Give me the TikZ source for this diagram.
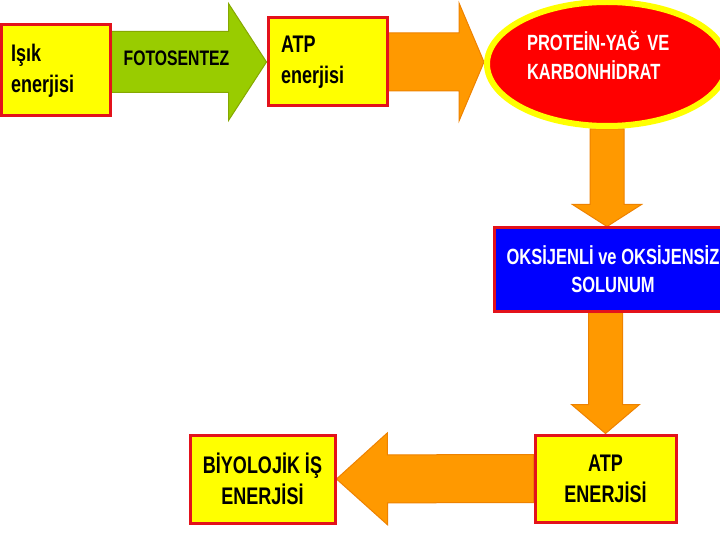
\documentclass[tikz,border=0pt]{standalone}
\usepackage{fontspec}
\setmainfont{Liberation Sans}
\newfontfamily\narrowfont{Liberation Sans}[FakeStretch=0.75]
\usetikzlibrary{calc, shapes.geometric, backgrounds}

\definecolor{boxyellow}{HTML}{FFFF00}
\definecolor{boxred}{HTML}{E3121B}
\definecolor{leafgreen}{HTML}{99CC00}
\definecolor{leafedge}{HTML}{86A800}
\definecolor{fatorange}{HTML}{FF9900}
\definecolor{orangeedge}{HTML}{EE8200}
\definecolor{deepblue}{HTML}{0000FF}

% fat block arrow: style, from, to, shaft half width, head half width, head length
\newcommand{\fatarrow}[6]{%
  \coordinate (fa-base) at ($(#3)!#6!(#2)$);
  \draw[#1] ($(#2)!#4!90:(#3)$) -- ($(fa-base)!#4!-90:(#2)$)
    -- ($(fa-base)!#5!-90:(#2)$) -- (#3)
    -- ($(fa-base)!#5!90:(#2)$) -- ($(fa-base)!#4!90:(#2)$)
    -- ($(#2)!#4!-90:(#3)$) -- cycle;
}

\begin{document}
\begin{tikzpicture}[
  x=1pt, y=-1pt,
  yellowbox/.style={rectangle, draw=boxred, line width=3pt, fill=boxyellow, font=\narrowfont\bfseries\fontsize{24}{31}\selectfont},
  leftbox/.style={yellowbox, align=left},
  centerbox/.style={yellowbox, align=center},
  greenarrow/.style={fill=leafgreen, draw=leafedge, line width=1pt, line join=miter},
  orangearrow/.style={fill=fatorange, draw=orangeedge, line width=1pt, line join=miter}
]
  \useasboundingbox (0,0) rectangle (720,540);
  % Top row
  \node[leftbox, inner xsep=10pt, text width=89pt, minimum height=91pt] (light) at (55.5,70.5) {Işık\\enerjisi};
  \node[leftbox, inner xsep=13pt, text width=93pt, minimum height=88pt] (atp1) at (327.5,62) {ATP\\enerjisi};
  \node[ellipse, fill=red, draw=boxyellow, line width=6pt, minimum width=240pt, minimum height=124pt,
        inner sep=0pt, text width=160pt, align=left, text=white,
        font=\narrowfont\bfseries\fontsize{22}{29}\selectfont] (carb) at (607,64) {PROTEİN-YAĞ VE\\KARBONHİDRAT\rule[-17pt]{0pt}{17pt}};
  % Respiration
  \node[rectangle, fill=deepblue, draw=boxred, line width=3pt, minimum width=238pt, minimum height=83pt,
        align=center, text=white, font=\narrowfont\bfseries\fontsize{22}{28}\selectfont] (resp) at (613,269.5) {OKSİJENLİ ve OKSİJENSİZ\\SOLUNUM};
  % Bottom row
  \node[centerbox, minimum width=141pt, minimum height=87pt] (atp2) at (605.5,478.5) {ATP\\ENERJİSİ};
  \node[centerbox, minimum width=145pt, minimum height=88pt] (work) at (262.5,479) {BİYOLOJİK İŞ\\ENERJİSİ};
  % Arrow end points
  \coordinate (g0) at (light.east |- atp1.west);
  \coordinate (o0) at (carb.west |- atp1.east);
  \coordinate (d0) at (carb.south |- resp.north);
  \coordinate (d1) at (resp.south -| atp2.north);
  % Arrows
  \begin{scope}[on background layer]
    \fill[white] (0,0) rectangle (720,540);
    \fatarrow{greenarrow}{g0}{atp1.west}{30.5pt}{58.5pt}{38pt}
    \fatarrow{orangearrow}{atp1.east}{o0}{29pt}{59pt}{25pt}
    \fatarrow{orangearrow}{carb.south}{d0}{17pt}{34.5pt}{22pt}
    \fatarrow{orangearrow}{d1}{atp2.north}{17pt}{34pt}{29pt}
    \fatarrow{orangearrow}{atp2.west}{work.east}{24pt}{46pt}{51pt}
  \end{scope}
  \node[anchor=west, inner sep=0pt, font=\narrowfont\bfseries\fontsize{21}{22}\selectfont] (photo) at ([xshift=12pt, yshift=4pt]g0) {FOTOSENTEZ};
\end{tikzpicture}
\end{document}
